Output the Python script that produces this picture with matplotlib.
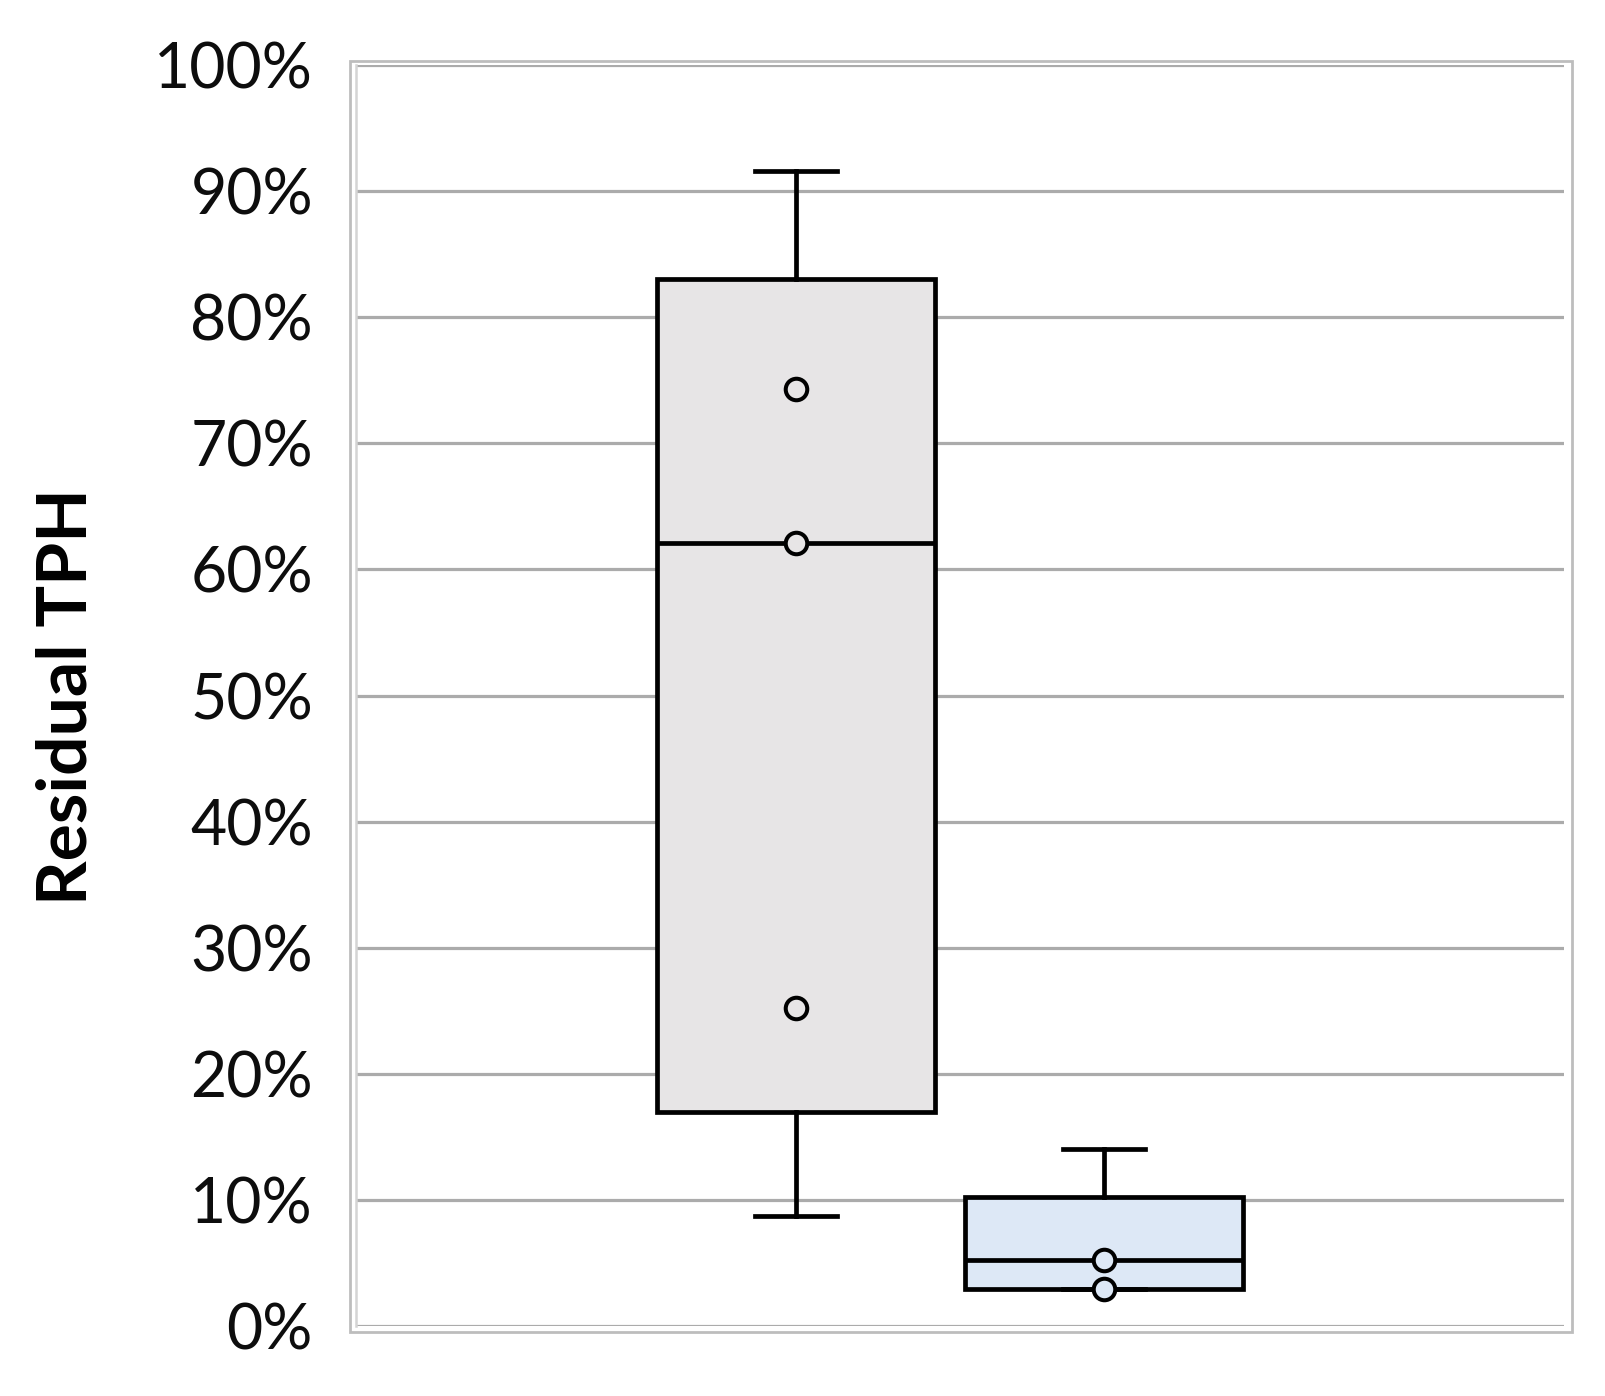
import matplotlib
matplotlib.use("Agg")
import matplotlib.pyplot as plt
from matplotlib.patches import Rectangle
from matplotlib.ticker import PercentFormatter, MultipleLocator

# ---- data (percent) ----
series = ["Group 1", "Group 2"]
q1 = [17.0, 2.9]
median = [62.1, 5.25]
q3 = [83.0, 10.2]
whisker_low = [8.7, 2.9]
whisker_high = [91.6, 14.0]
points = [[74.3, 62.1, 25.25], [5.25, 2.9]]
fills = ["#E7E5E6", "#DDE8F6"]
ylabel = "Residual TPH"

W, H = 1606, 1396
DPI = 100
plt.rcParams["font.family"] = ["Lato", "DejaVu Sans"]

fig = plt.figure(figsize=(W / DPI, H / DPI), dpi=DPI)
ax_l, ax_r, ax_t, ax_b = 356, 1564, 65, 1326
ax = fig.add_axes([ax_l / W, 1 - ax_b / H, (ax_r - ax_l) / W, (ax_b - ax_t) / H])

positions = [0.364, 0.619]
stats = []
for i, name in enumerate(series):
    stats.append(dict(label=name, q1=q1[i], med=median[i], q3=q3[i],
                      whislo=whisker_low[i], whishi=whisker_high[i], fliers=[]))

LW = 3.4
bp = ax.bxp(stats, positions=positions, widths=0.23, patch_artist=True,
            showfliers=False, capwidths=0.068,
            boxprops=dict(linewidth=LW, edgecolor="black"),
            medianprops=dict(color="black", linewidth=LW),
            whiskerprops=dict(color="black", linewidth=LW),
            capprops=dict(color="black", linewidth=LW),
            manage_ticks=False, zorder=3)
for patch, fc in zip(bp["boxes"], fills):
    patch.set_facecolor(fc)

for i, pts in enumerate(points):
    ax.plot([positions[i]] * len(pts), pts, linestyle="none", marker="o",
            markersize=15.5, markerfacecolor=fills[i], markeredgecolor="black",
            markeredgewidth=2.9, zorder=4)

ax.set_xlim(0, 1)
ax.set_ylim(0, 100)
ax.yaxis.set_major_locator(MultipleLocator(10))
ax.yaxis.set_major_formatter(PercentFormatter(100, decimals=0))
ax.set_xticks([])
ax.grid(axis="y", color="#ABABAB", linewidth=2.3, zorder=0)
ax.set_axisbelow(True)
for s in ["top", "right", "bottom"]:
    ax.spines[s].set_visible(False)
ax.spines["left"].set_color("#D4D4D4")
ax.spines["left"].set_linewidth(1.8)
ax.tick_params(axis="y", length=0, pad=31, labelsize=45, labelcolor="#0D0D0D")

fig.text(67 / W, 1 - 697 / H, ylabel, rotation=90, ha="center", va="center",
         fontsize=50, fontweight="bold", color="black")

fig.patches.append(Rectangle((350 / W, 1 - 1332 / H), (1572 - 350) / W, (1332 - 61) / H,
                             transform=fig.transFigure, fill=False,
                             edgecolor="#BDBDBD", linewidth=2.0))

fig.savefig("out.png", dpi=DPI, facecolor="white")
